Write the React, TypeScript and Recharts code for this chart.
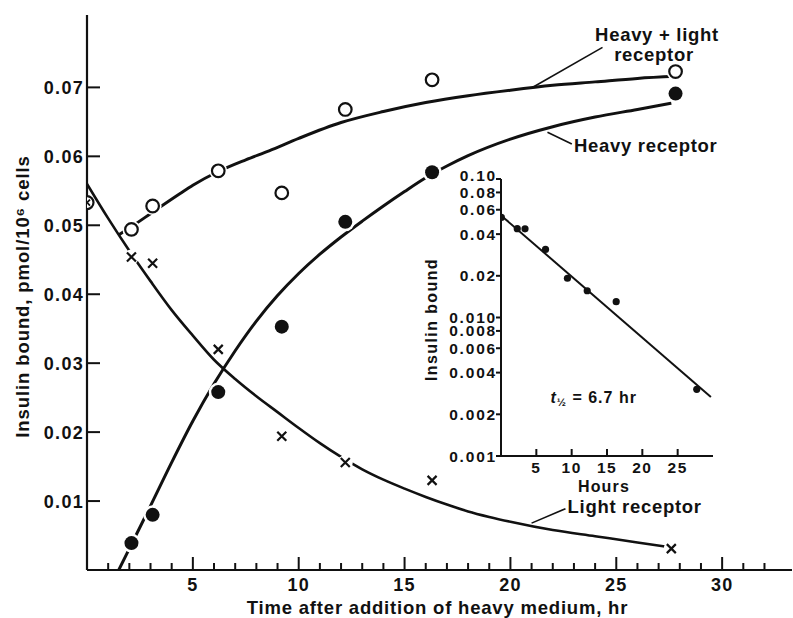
import React from 'react';
import { ComposedChart, Line, Scatter, XAxis, YAxis, ReferenceLine, ReferenceDot, Label } from 'recharts';

const FONT = "'Liberation Sans', Arial, Helvetica, sans-serif";
const INK = '#111';

// measured points (hr, pmol/10^6 cells)
const sampleHours = [2.1, 3.1, 6.2, 9.2, 12.2, 16.3, 27.8];
const heavyLightValues = [0.0494, 0.0528, 0.0579, 0.0547, 0.0668, 0.0711, 0.0723];
const heavyValues = [0.0039, 0.008, 0.0258, 0.0353, 0.0505, 0.0577, 0.0691];
const lightHours = [2.1, 3.1, 6.2, 9.2, 12.2, 16.3, 27.6];
const lightValues = [0.0454, 0.0445, 0.032, 0.0194, 0.0156, 0.013, 0.0031];
const startHours = [0];
const startValues = [0.0533];

// drawn curves
const heavyLightCurveHours = [1.5, 2.2, 3.1, 4.4, 5, 6.2, 7.5, 8.6, 10, 12, 14, 16, 18, 20, 22, 24, 26, 27.8];
const heavyLightCurveValues = [0.0486, 0.05, 0.0519, 0.0546, 0.0558, 0.0578, 0.0595, 0.0608, 0.0626, 0.0649, 0.0665, 0.0678, 0.0688, 0.0696, 0.0703, 0.0708, 0.0713, 0.0716];
const heavyCurveHours = [1.5, 2, 3, 4, 5, 6, 7, 8, 9, 10, 11, 12, 13, 14, 15, 16, 17, 18, 20, 22, 24, 26, 27.6];
const heavyCurveValues = [0, 0.0031, 0.0093, 0.0156, 0.0216, 0.027, 0.0318, 0.0361, 0.0398, 0.043, 0.0458, 0.0483, 0.0506, 0.0528, 0.0549, 0.0569, 0.0586, 0.0601, 0.0625, 0.0643, 0.0657, 0.0668, 0.0677];
const lightCurveHours = [0, 1, 2, 3, 4, 5, 6, 7, 8, 9, 10, 11, 12, 13, 14, 15, 16, 17, 18, 19, 20, 22, 24, 26, 27.3];
const lightCurveValues = [0.056, 0.051, 0.0463, 0.0419, 0.0377, 0.034, 0.0305, 0.0277, 0.0252, 0.0229, 0.0206, 0.0184, 0.0164, 0.0146, 0.0131, 0.0118, 0.0106, 0.0095, 0.0085, 0.0077, 0.007, 0.0058, 0.0049, 0.004, 0.0034];

// inset (log scale)
const insetHours = [0.05, 2.3, 3.4, 6.3, 9.4, 12.2, 16.3, 27.7];
const insetValues = [0.0528, 0.0438, 0.0437, 0.031, 0.0192, 0.0156, 0.013, 0.00303];
const insetFitHours = [0, 29.7];
const insetFitValues = [0.0546, 0.00267];

// ticks
const mainXTicks = [1, 2, 3, 4, 5, 6, 7, 8, 9, 10, 11, 12, 13, 14, 15, 16, 17, 18, 19, 20, 21, 22, 23, 24, 25, 26, 27, 28, 29, 30, 31, 32];
const mainTopTicks = [5, 10, 15, 20, 30];
const mainYTicks = [0.01, 0.02, 0.03, 0.04, 0.05, 0.06, 0.07];
const insetXTicks = [5, 10, 15, 20, 25];
const insetYTicks = [0.001, 0.002, 0.004, 0.006, 0.008, 0.01, 0.02, 0.04, 0.06, 0.08, 0.1];
const insetYLabels = ['0.001', '0.002', '0.004', '0.006', '0.008', '0.010', '0.02', '0.04', '0.06', '0.08', '0.10'];

const pts = (ts: number[], vs: number[]) => ts.map((t, i) => ({ t, v: vs[i] }));

const txt = { fontFamily: FONT, fontWeight: 700, fill: INK } as const;

// main axis ticks (all drawn inward)
const BottomTick = ({ x, y, payload }: any) => {
  const major = payload.value % 5 === 0;
  return (
    <g>
      <line x1={x} y1={y} x2={x} y2={y - (major ? 13 : 7)} stroke={INK} strokeWidth={2} />
      {major && (
        <text x={x} y={y + 21} textAnchor="middle" fontSize={18} letterSpacing={1.2} {...txt}>
          {payload.value}
        </text>
      )}
    </g>
  );
};
const TopTick = ({ x, y }: any) => <line x1={x} y1={y} x2={x} y2={y + 15} stroke={INK} strokeWidth={2} />;
const LeftTick = ({ x, y, payload }: any) => (
  <g>
    <line x1={x} y1={y} x2={x + 13} y2={y} stroke={INK} strokeWidth={2} />
    <text x={x - 3} y={y + 6.5} textAnchor="end" fontSize={18} letterSpacing={1.3} {...txt}>
      {payload.value.toFixed(2)}
    </text>
  </g>
);
const RightTick = ({ x, y }: any) => <line x1={x} y1={y} x2={x - 7} y2={y} stroke={INK} strokeWidth={2} />;

// inset ticks
const InsetBottomTick = ({ x, y, payload }: any) => (
  <g>
    <line x1={x} y1={y} x2={x} y2={y - 7} stroke={INK} strokeWidth={2} />
    <text x={x} y={y + 17} textAnchor="middle" fontSize={15.5} letterSpacing={1.5} {...txt}>
      {payload.value}
    </text>
  </g>
);
const InsetTopTick = ({ x, y }: any) => <line x1={x} y1={y} x2={x} y2={y + 7} stroke={INK} strokeWidth={2} />;
const InsetLeftTick = ({ x, y, payload }: any) => {
  const i = insetYTicks.indexOf(payload.value);
  const lift = payload.value === 0.1 ? -4 : 0;
  return (
    <g>
      <line x1={x - 5} y1={y} x2={x} y2={y} stroke={INK} strokeWidth={2} />
      <text x={x - 4} y={y + 5.5 + lift} textAnchor="end" fontSize={15.5} letterSpacing={1.8} {...txt}>
        {insetYLabels[i]}
      </text>
    </g>
  );
};
const InsetRightTick = ({ x, y }: any) => <line x1={x} y1={y} x2={x - 6} y2={y} stroke={INK} strokeWidth={2} />;

// markers
const OpenCircle = ({ cx, cy }: any) => (
  <g>
    <circle cx={cx} cy={cy} r={9} fill="#fff" />
    <circle cx={cx} cy={cy} r={6.3} fill="#fff" stroke={INK} strokeWidth={2.2} />
  </g>
);
const FilledCircle = ({ cx, cy }: any) => (
  <g>
    <circle cx={cx} cy={cy} r={9.5} fill="#fff" />
    <circle cx={cx} cy={cy} r={7} fill={INK} />
  </g>
);
const Cross = ({ cx, cy }: any) => (
  <g>
    <circle cx={cx} cy={cy} r={7.5} fill="#fff" />
    <path d={`M${cx - 4.5},${cy - 4.5}L${cx + 4.5},${cy + 4.5}M${cx - 4.5},${cy + 4.5}L${cx + 4.5},${cy - 4.5}`} stroke={INK} strokeWidth={2.2} />
  </g>
);
const CircleCross = ({ cx, cy }: any) => (
  <g>
    <circle cx={cx} cy={cy} r={6.5} fill="#fff" stroke={INK} strokeWidth={2.2} />
    <path d={`M${cx - 3},${cy - 3}L${cx + 3},${cy + 3}M${cx - 3},${cy + 3}L${cx + 3},${cy - 3}`} stroke={INK} strokeWidth={1.8} />
  </g>
);
const SmallDot = ({ cx, cy }: any) => <circle cx={cx} cy={cy} r={3.6} fill={INK} />;

const note = (text: string, size = 18.5) => (p: any) => (
  <text x={p.cx} y={p.cy} fontSize={size} letterSpacing={0.7} {...txt}>
    {text}
  </text>
);

const App: React.FC = () => (
  <div style={{ position: 'absolute', left: 0, top: 0, width: 793, height: 618, background: '#fff' }}>
    <ComposedChart width={793} height={618} margin={{ top: 15, right: 1, bottom: 18, left: 7 }}>
      <XAxis
        type="number"
        dataKey="t"
        domain={[0, 33.3]}
        allowDataOverflow
        ticks={mainXTicks}
        interval={0}
        tickSize={0}
        tickMargin={0}
        height={30}
        tick={(p: any) => <BottomTick {...p} />}
        axisLine={{ stroke: INK, strokeWidth: 2.2 }}
      >
        <Label
          content={({ viewBox }: any) => (
            <text x={viewBox.x + viewBox.width / 2 - 2} y={viewBox.y + 44} textAnchor="middle" fontSize={18.5} letterSpacing={0.8} {...txt}>
              Time after addition of heavy medium, hr
            </text>
          )}
        />
      </XAxis>
      <XAxis
        xAxisId="top"
        orientation="top"
        type="number"
        dataKey="t"
        domain={[0, 33.3]}
        allowDataOverflow
        ticks={mainTopTicks}
        interval={0}
        tickSize={0}
        tickMargin={0}
        height={0}
        tick={(p: any) => <TopTick {...p} />}
        axisLine={{ stroke: INK, strokeWidth: 2.2 }}
      />
      <YAxis
        type="number"
        domain={[0, 0.0805]}
        allowDataOverflow
        ticks={mainYTicks}
        interval={0}
        tickSize={0}
        tickMargin={0}
        width={80}
        tick={(p: any) => <LeftTick {...p} />}
        axisLine={{ stroke: INK, strokeWidth: 2.2 }}
      >
        <Label
          content={({ viewBox }: any) => {
            const cx = viewBox.x + 15;
            const cy = viewBox.y + viewBox.height / 2 + 4;
            return (
              <text x={cx} y={cy} transform={`rotate(-90 ${cx} ${cy})`} textAnchor="middle" dominantBaseline="central" fontSize={18.5} letterSpacing={0.9} {...txt}>
                Insulin bound, pmol/10⁶ cells
              </text>
            );
          }}
        />
      </YAxis>
      <YAxis
        yAxisId="right"
        orientation="right"
        type="number"
        domain={[0, 0.0805]}
        allowDataOverflow
        ticks={mainYTicks}
        interval={0}
        tickSize={0}
        tickMargin={0}
        width={0}
        tick={(p: any) => <RightTick {...p} />}
        axisLine={{ stroke: INK, strokeWidth: 2.2 }}
      />

      <Line data={pts(heavyLightCurveHours, heavyLightCurveValues)} dataKey="v" type="monotone" stroke={INK} strokeWidth={3} dot={false} activeDot={false} isAnimationActive={false} />
      <Line data={pts(heavyCurveHours, heavyCurveValues)} dataKey="v" type="monotone" stroke={INK} strokeWidth={3} dot={false} activeDot={false} isAnimationActive={false} />
      <Line data={pts(lightCurveHours, lightCurveValues)} dataKey="v" type="monotone" stroke={INK} strokeWidth={2.6} dot={false} activeDot={false} isAnimationActive={false} />

      <ReferenceLine segment={[{ x: 21.1, y: 0.0701 }, { x: 24.35, y: 0.0758 }]} stroke={INK} strokeWidth={1.6} ifOverflow="visible" />
      <ReferenceLine segment={[{ x: 21.75, y: 0.0635 }, { x: 22.9, y: 0.0618 }]} stroke={INK} strokeWidth={1.6} ifOverflow="visible" />
      <ReferenceLine segment={[{ x: 21.0, y: 0.0068 }, { x: 22.6, y: 0.0089 }]} stroke={INK} strokeWidth={1.6} ifOverflow="visible" />

      <Scatter data={pts(sampleHours, heavyLightValues)} dataKey="v" shape={(p: any) => <OpenCircle {...p} />} isAnimationActive={false} />
      <Scatter data={pts(sampleHours, heavyValues)} dataKey="v" shape={(p: any) => <FilledCircle {...p} />} isAnimationActive={false} />
      <Scatter data={pts(lightHours, lightValues)} dataKey="v" shape={(p: any) => <Cross {...p} />} isAnimationActive={false} />
      <Scatter data={pts(startHours, startValues)} dataKey="v" shape={(p: any) => <CircleCross {...p} />} isAnimationActive={false} />

      <ReferenceDot x={24.0} y={0.0767} r={0} ifOverflow="visible" shape={note('Heavy + light')} />
      <ReferenceDot x={24.9} y={0.0738} r={0} ifOverflow="visible" shape={note('receptor')} />
      <ReferenceDot x={23.0} y={0.0606} r={0} ifOverflow="visible" shape={note('Heavy receptor')} />
      <ReferenceDot x={22.7} y={0.0083} r={0} ifOverflow="visible" shape={note('Light receptor')} />
    </ComposedChart>

    <div style={{ position: 'absolute', left: 420, top: 160, width: 300, height: 340 }}>
      <ComposedChart width={300} height={340} margin={{ top: 19, right: 7, bottom: 14, left: 11 }}>
        <XAxis
          type="number"
          dataKey="t"
          domain={[0, 30]}
          allowDataOverflow
          ticks={insetXTicks}
          interval={0}
          tickSize={0}
          tickMargin={0}
          height={30}
          tick={(p: any) => <InsetBottomTick {...p} />}
          axisLine={{ stroke: INK, strokeWidth: 2 }}
        >
          <Label
            content={({ viewBox }: any) => (
              <text x={viewBox.x + viewBox.width / 2 - 3} y={viewBox.y + 36} textAnchor="middle" fontSize={16} letterSpacing={1.2} {...txt}>
                Hours
              </text>
            )}
          />
        </XAxis>
        <XAxis
          xAxisId="top"
          orientation="top"
          type="number"
          dataKey="t"
          domain={[0, 30]}
          allowDataOverflow
          ticks={insetXTicks}
          interval={0}
          tickSize={0}
          tickMargin={0}
          height={0}
          tick={(p: any) => <InsetTopTick {...p} />}
          axisLine={{ stroke: INK, strokeWidth: 2 }}
        />
        <YAxis
          type="number"
          scale="log"
          domain={[0.001, 0.1]}
          allowDataOverflow
          ticks={insetYTicks}
          interval={0}
          tickSize={0}
          tickMargin={0}
          width={70}
          tick={(p: any) => <InsetLeftTick {...p} />}
          axisLine={{ stroke: INK, strokeWidth: 2 }}
        >
          <Label
            content={({ viewBox }: any) => {
              const cx = viewBox.x;
              const cy = viewBox.y + viewBox.height / 2 + 2;
              return (
                <text x={cx} y={cy} transform={`rotate(-90 ${cx} ${cy})`} textAnchor="middle" dominantBaseline="central" fontSize={16} letterSpacing={1.4} {...txt}>
                  Insulin bound
                </text>
              );
            }}
          />
        </YAxis>
        <YAxis
          yAxisId="right"
          orientation="right"
          type="number"
          scale="log"
          domain={[0.001, 0.1]}
          allowDataOverflow
          ticks={insetYTicks}
          interval={0}
          tickSize={0}
          tickMargin={0}
          width={0}
          tick={(p: any) => <InsetRightTick {...p} />}
          axisLine={{ stroke: INK, strokeWidth: 2 }}
        />
        <Line data={pts(insetFitHours, insetFitValues)} dataKey="v" type="linear" stroke={INK} strokeWidth={2} dot={false} activeDot={false} isAnimationActive={false} />
        <Scatter data={pts(insetHours, insetValues)} dataKey="v" shape={(p: any) => <SmallDot {...p} />} isAnimationActive={false} />
        <ReferenceDot
          x={7}
          y={0.0024}
          r={0}
          ifOverflow="visible"
          shape={(p: any) => (
            <text x={p.cx} y={p.cy} fontSize={16} letterSpacing={1} {...txt}>
              <tspan fontStyle="italic">t</tspan>
              <tspan fontSize={11} dy={3}>½</tspan>
              <tspan dy={-3}> = 6.7 hr</tspan>
            </text>
          )}
        />
      </ComposedChart>
    </div>
  </div>
);

export default App;
